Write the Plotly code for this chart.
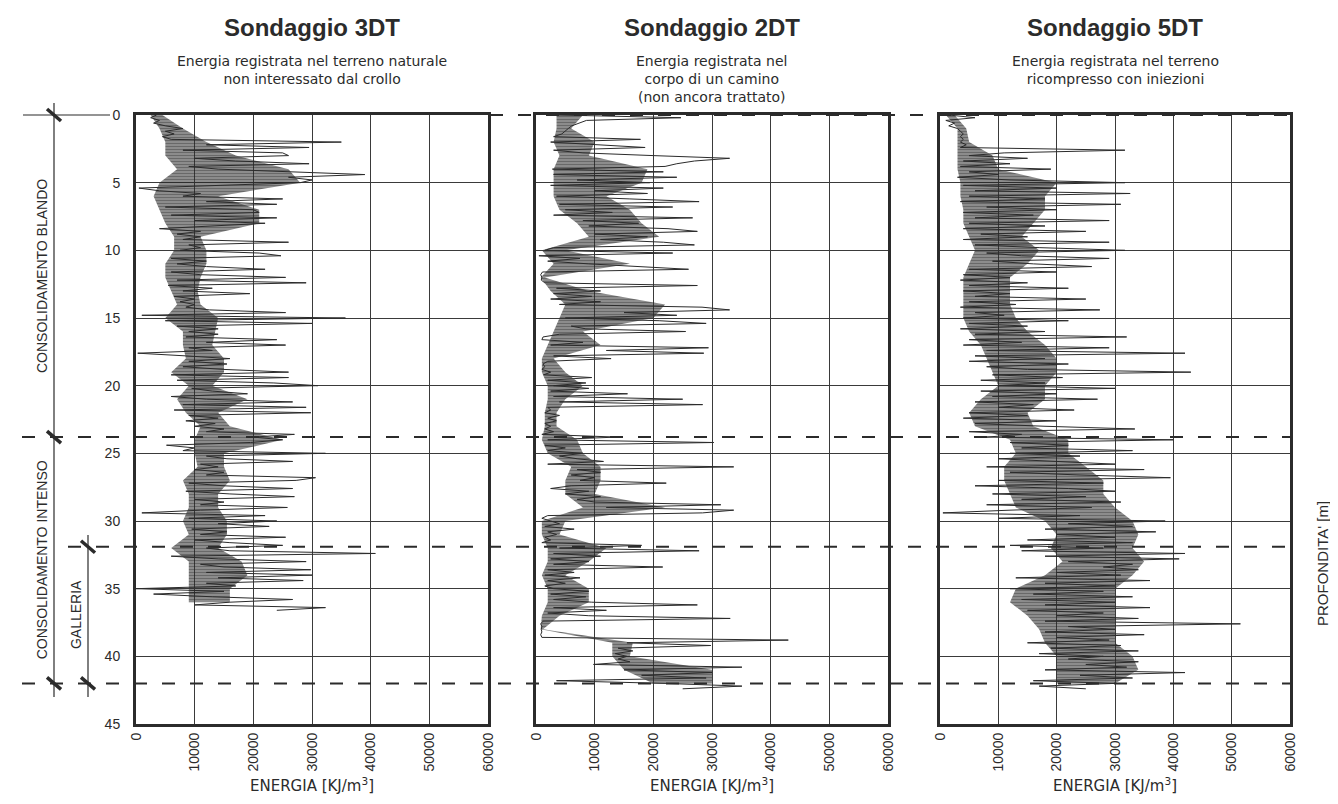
import plotly.graph_objects as go

# ---------------- data (energy in kJ/m3) ----------------
# spike trace, sampled every 0.2 m of depth
DEPTH_STEP = 0.2
# dense core of the trace, read every 1 m of depth
BAND_STEP = 1.0

E_3DT = [
    3500, 2500, 4000, 3000, 5000,
    8000, 5000, 6500, 4500, 6000,
    35000, 12000, 29500, 8000, 25000,
    26000, 10000, 17000, 29500, 9000,
    14000, 27500, 39000, 26000, 30000,
    28000, 15000, 500, 4000, 11000,
    8000, 25000, 12000, 24000, 5000,
    20000, 21000, 6000, 24000, 10000,
    22000, 13000, 4000, 11000, 7000,
    11000, 8000, 26000, 9000, 11000,
    7500, 21000, 24700, 6000, 12000,
    7000, 12000, 22000, 6000, 11000,
    25500, 7000, 29000, 5500, 13000,
    8000, 19400, 6500, 10000, 7500,
    10000, 8500, 12500, 25500, 1000,
    35700, 5000, 30000, 7000, 14000,
    9000, 14000, 8500, 24000, 12000,
    25500, 9000, 13000, 300, 8500,
    16000, 9000, 15500, 8000, 15000,
    26000, 6000, 26000, 7000, 23500,
    31000, 9500, 13000, 19000, 6000,
    12000, 26700, 8000, 29000, 6500,
    29800, 9000, 14000, 8500, 13500,
    10000, 15000, 12000, 27000, 20000,
    25000, 19500, 5200, 10000, 8000,
    32300, 12000, 15500, 26700, 11000,
    14000, 10000, 15000, 12000, 30600,
    27300, 9000, 15000, 26700, 8500,
    16000, 27000, 10000, 15000, 11000,
    25800, 11000, 1000, 22000, 9000,
    24000, 14000, 22700, 9500, 15500,
    11000, 25500, 10000, 16000, 25000,
    12000, 16000, 40800, 6000, 14000,
    29000, 11000, 15000, 29800, 12000,
    30000, 14000, 28500, 12000, 17000,
    0, 15000, 3000, 13000, 26700,
    16000, 10000, 32300, 24000,
]
LO_3DT = [2500, 4000, 5000, 5000, 7000, 4000, 3000, 4000, 5000, 6500,
          6500, 5000, 5000, 6000, 7000, 5000, 8000, 8000, 8500, 6000,
          9000, 7000, 8500, 11000, 10000, 10000, 10500, 8000, 9000, 9000,
          8000, 9000, 6000, 9000, 9000, 9000, 9000]
HI_3DT = [4500, 8000, 12000, 17000, 26000, 28000, 14000, 21000, 21000, 11000,
          12000, 12000, 11000, 10500, 11000, 14000, 13500, 13000, 15000, 15000,
          13000, 19000, 14000, 16000, 25000, 15000, 15000, 16000, 14000, 14000,
          15500, 15500, 14000, 18000, 19000, 16000, 16000]

E_2DT = [
    3900, 24700, 8600, 7500, 6100,
    5500, 5000, 4400, 3000, 17800,
    2500, 10800, 18600, 3000, 8000,
    20000, 33000, 27000, 24000, 22000,
    2800, 21700, 3000, 24000, 7000,
    19400, 2500, 21700, 10000, 19000,
    3500, 16000, 27800, 4000, 23300,
    5000, 13000, 3000, 26700, 8000,
    17500, 9000, 22500, 27500, 10000,
    19000, 11000, 21700, 27000, 3000,
    1500, 23300, 500, 7500, 2000,
    9000, 18000, 26000, 1100, 800,
    1000, 900, 1500, 27500, 3500,
    11000, 3000, 9500, 2500, 11000,
    4000, 28300, 33000, 15000, 24000,
    5000, 21000, 29000, 6000, 8500,
    25500, 4000, 1200, 1000, 8000,
    2500, 29400, 12000, 28600, 3000,
    12800, 2000, 1200, 1500, 1000,
    2500, 1300, 9500, 2000, 8500,
    3000, 9000, 2500, 15600, 3000,
    25000, 4000, 28400, 2000, 2500,
    1500, 4000, 2000, 3500, 1500,
    2500, 1500, 3000, 1000, 13800,
    2000, 30300, 1500, 5000, 2000,
    8000, 4000, 7000, 11500, 2000,
    33700, 7000, 11000, 6000, 10000,
    7500, 22200, 6000, 2500, 9000,
    5000, 11000, 7000, 10000, 31500,
    12000, 33700, 28400, 2000, 1000,
    2500, 4000, 1500, 6500, 2000,
    3500, 1500, 2500, 1000, 18000,
    4000, 27800, 3000, 11000, 2500,
    9000, 3000, 21600, 2000, 6500,
    1500, 7500, 2000, 5000, 1500,
    3000, 9000, 2500, 8500, 3000,
    9500, 27500, 3000, 12000, 2000,
    9000, 33100, 1200, 800, 1000,
    900, 1000, 800, 1000, 43000,
    15500, 29800, 14000, 16500, 13500,
    15500, 14000, 16000, 9800, 35100,
    15000, 30000, 18000, 29000, 3500,
    22000, 35100, 25000,
]
LO_2DT = [3500, 3500, 3000, 4000, 3000, 3000, 3000, 4000, 7000, 9000,
          1000, 3000, 800, 2500, 5000, 4000, 3000, 2000, 1000, 1000,
          2000, 2000, 1500, 1500, 1000, 2000, 6000, 5000, 5000, 8000,
          1000, 1000, 2000, 2000, 1000, 2000, 2000, 1000, 800, 13000,
          13000, 15000, 20000]
HI_2DT = [8000, 6000, 10000, 9000, 19000, 18000, 12000, 16000, 18000, 21000,
          5000, 16000, 1500, 9000, 22000, 20000, 8000, 11000, 3000, 5000,
          8000, 5000, 3500, 3500, 7000, 8000, 11000, 11000, 10000, 22000,
          5000, 4000, 12000, 9000, 5000, 9000, 9000, 4000, 1200, 16500,
          16000, 30000, 30000]

E_5DT = [
    1500, 6000, 1000, 2500, 1500,
    3000, 3500, 4000, 3500, 4000,
    3500, 4500, 3500, 31700, 11000,
    5000, 15000, 4000, 12000, 3500,
    19000, 5000, 10000, 3000, 12000,
    31700, 4000, 20000, 6000, 32600,
    5000, 18000, 3500, 31000, 8000,
    20000, 4000, 16000, 6000, 29000,
    5000, 18000, 4000, 25000, 7000,
    15000, 4000, 29000, 6000, 17000,
    31700, 8000, 14000, 29000, 9000,
    16000, 26000, 5000, 20000, 4000,
    12000, 3500, 15000, 5000, 22000,
    4000, 12000, 6000, 25000, 5000,
    13000, 3500, 27400, 6000, 11000,
    4000, 22000, 5000, 15000, 3500,
    18000, 6000, 32000, 5000, 14000,
    4000, 29000, 8000, 42000, 6000,
    18000, 5000, 22000, 8000, 15000,
    43000, 9000, 21000, 7000, 18000,
    10000, 30000, 7000, 20000, 9000,
    27000, 6000, 16000, 10000, 23000,
    5000, 15000, 4000, 20000, 6000,
    18000, 33400, 5000, 14000, 8000,
    40000, 12000, 22000, 14000, 33000,
    12000, 24000, 10000, 20000, 30000,
    8000, 35000, 12000, 24000, 39500,
    10000, 28000, 6000, 22000, 30000,
    9000, 25000, 14000, 31000, 8000,
    26000, 12000, 500, 24000, 10000,
    38600, 22000, 33000, 18000, 37000,
    20000, 30000, 15000, 33000, 12000,
    28000, 14000, 42000, 18000, 41000,
    22000, 33000, 28000, 34000, 20000,
    31000, 13000, 36000, 18000, 30000,
    12000, 28000, 16000, 33000, 14000,
    30000, 18000, 36000, 15000, 28000,
    20000, 34000, 18000, 51500, 22000,
    30000, 18000, 35000, 20000, 29000,
    15000, 31000, 19000, 34000, 17000,
    28000, 22000, 34000, 25000, 32000,
    18000, 42000, 24000, 33000, 16000,
    30000, 17000, 25000,
]
LO_5DT = [1000, 3000, 3000, 3000, 3000, 3500, 3500, 4000, 4000, 5000,
          6000, 5000, 4000, 4000, 4000, 4000, 5000, 7000, 8000, 9000,
          10000, 7000, 5000, 6000, 12000, 13000, 11000, 11000, 12000, 13000,
          18000, 20000, 19000, 21000, 18000, 13000, 12000, 15000, 17000, 18000,
          20000, 20000, 20000]
HI_5DT = [2500, 4500, 5000, 9000, 10000, 20000, 18000, 18000, 16000, 14000,
          17000, 15000, 12000, 12000, 12000, 13000, 15000, 18000, 20000, 20000,
          18000, 18000, 15000, 16000, 22000, 22000, 25000, 28000, 28000, 30000,
          33000, 34000, 33000, 35000, 33000, 30000, 30000, 30000, 30000, 30000,
          33000, 34000, 30000]

TITLES = ["Sondaggio 3DT", "Sondaggio 2DT", "Sondaggio 5DT"]
SUBTITLES = [
    "Energia registrata nel terreno naturale<br>non interessato dal crollo",
    "Energia registrata nel<br>corpo di un camino<br>(non ancora trattato)",
    "Energia registrata nel terreno<br>ricompresso con iniezioni",
]
X_TICKS = [0, 10000, 20000, 30000, 40000, 50000, 60000]
Y_TICKS = [0, 5, 10, 15, 20, 25, 30, 35, 40, 45]
ZONE_DEPTHS = [0, 23.8, 31.9, 42.0]   # top, blando/intenso, galleria, bottom
X_TITLE = "ENERGIA [KJ/m<sup>3</sup>]"
Y_TITLE = "PROFONDITA' [m]"

# ---------------- layout geometry ----------------
# the page body keeps an 8 px margin, so the figure is made 16 px smaller
PAGE_OFF = 8
W, H = 1338 - 2 * PAGE_OFF, 804 - 2 * PAGE_OFF
PLOT_TOP, PLOT_BOT = 115, 724          # wanted on-screen pixels
PANELS_X = [(136, 488), (536, 888), (940, 1290)]
INK = "#2b2b2b"


def fx(p):
    return (p - PAGE_OFF) / W


def fy(p):
    return 1 - (p - PAGE_OFF) / H


def depth_px(d):
    return PLOT_TOP + d / 45.0 * (PLOT_BOT - PLOT_TOP)


fig = go.Figure()
series = [(E_3DT, LO_3DT, HI_3DT), (E_2DT, LO_2DT, HI_2DT), (E_5DT, LO_5DT, HI_5DT)]
for i, (vals, lo, hi) in enumerate(series):
    sfx = "" if i == 0 else str(i + 1)
    bd = [round(k * BAND_STEP, 2) for k in range(len(lo))]
    fig.add_trace(go.Scatter(
        x=list(lo) + list(hi)[::-1], y=bd + bd[::-1], mode="lines",
        fill="toself", fillcolor="rgba(60,60,60,0.4)",
        fillpattern=dict(shape="-", fgcolor="#1e1e1e", bgcolor="rgba(70,70,70,0.4)",
                         size=3, solidity=0.7),
        line=dict(width=0),
        xaxis="x" + sfx, yaxis="y" + sfx, showlegend=False, hoverinfo="skip",
    ))
    depths = [round(k * DEPTH_STEP, 2) for k in range(len(vals))]
    fig.add_trace(go.Scatter(
        x=vals, y=depths, mode="lines",
        line=dict(color=INK, width=1.0),
        xaxis="x" + sfx, yaxis="y" + sfx, showlegend=False, hoverinfo="skip",
    ))

layout = dict(
    width=W, height=H,
    margin=dict(l=0, r=0, t=0, b=0, autoexpand=False),
    paper_bgcolor="white", plot_bgcolor="white",
    font=dict(family="Liberation Sans, Arial, sans-serif", color=INK),
    showlegend=False,
)
for i, (x0, x1) in enumerate(PANELS_X):
    sfx = "" if i == 0 else str(i + 1)
    layout["xaxis" + sfx] = dict(
        domain=[fx(x0), fx(x1)], range=[0, 60000], anchor="y" + sfx,
        tickvals=X_TICKS, ticktext=[str(v) for v in X_TICKS],
        tickangle=-90, tickfont=dict(size=14, color=INK),
        showgrid=True, gridcolor="#3a3a3a", gridwidth=1,
        showline=True, mirror=True, linecolor=INK, linewidth=3,
        ticks="", zeroline=False, fixedrange=True, automargin=False,
    )
    layout["yaxis" + sfx] = dict(
        domain=[fy(PLOT_BOT), fy(PLOT_TOP)], range=[45, 0], anchor="x" + sfx,
        tickvals=Y_TICKS, showticklabels=(i == 0),
        tickfont=dict(size=14, color=INK), ticklabelstandoff=10,
        showgrid=True, gridcolor="#3a3a3a", gridwidth=1,
        showline=True, mirror=True, linecolor=INK, linewidth=3,
        ticks="", zeroline=False, fixedrange=True, automargin=False,
    )
fig.update_layout(**layout)

annotations = []
for i, (x0, x1) in enumerate(PANELS_X):
    cx = fx((x0 + x1) / 2)
    annotations.append(dict(
        x=cx, y=fy(27), xref="paper", yref="paper", text="<b>%s</b>" % TITLES[i],
        showarrow=False, xanchor="center", yanchor="middle",
        font=dict(size=24, family="Liberation Sans, Arial", color=INK),
    ))
    annotations.append(dict(
        x=cx, y=fy(51), xref="paper", yref="paper", text=SUBTITLES[i],
        showarrow=False, xanchor="center", yanchor="top", align="center",
        font=dict(size=14, family="DejaVu Sans, Arial", color=INK),
    ))
    annotations.append(dict(
        x=cx, y=fy(785), xref="paper", yref="paper", text=X_TITLE,
        showarrow=False, xanchor="center", yanchor="middle",
        font=dict(size=15, family="DejaVu Sans, Arial", color=INK),
    ))

annotations.append(dict(
    x=fx(1322), y=fy(564), xref="paper", yref="paper", text=Y_TITLE,
    showarrow=False, textangle=-90, xanchor="center", yanchor="middle",
    font=dict(size=15, family="Liberation Sans, Arial", color=INK),
))
annotations.append(dict(
    x=fx(42), y=fy((depth_px(ZONE_DEPTHS[0]) + depth_px(ZONE_DEPTHS[1])) / 2),
    xref="paper", yref="paper", text="CONSOLIDAMENTO BLANDO",
    showarrow=False, textangle=-90, xanchor="center", yanchor="middle",
    font=dict(size=14, family="Liberation Sans, Arial", color=INK),
))
annotations.append(dict(
    x=fx(42), y=fy((depth_px(ZONE_DEPTHS[1]) + depth_px(ZONE_DEPTHS[3])) / 2),
    xref="paper", yref="paper", text="CONSOLIDAMENTO INTENSO",
    showarrow=False, textangle=-90, xanchor="center", yanchor="middle",
    font=dict(size=14, family="Liberation Sans, Arial", color=INK),
))
annotations.append(dict(
    x=fx(76), y=fy((depth_px(ZONE_DEPTHS[2]) + depth_px(ZONE_DEPTHS[3])) / 2),
    xref="paper", yref="paper", text="GALLERIA",
    showarrow=False, textangle=-90, xanchor="center", yanchor="middle",
    font=dict(size=14, family="Liberation Sans, Arial", color=INK),
))
fig.update_layout(annotations=annotations)

shapes = []
DASH = "13px,15px"
y0 = fy(depth_px(ZONE_DEPTHS[0]))
shapes.append(dict(type="line", xref="paper", yref="paper", x0=fx(23), x1=fx(110),
                   y0=y0, y1=y0, line=dict(color=INK, width=1.2), layer="above"))
shapes.append(dict(type="line", xref="paper", yref="paper", x0=fx(490), x1=fx(1290),
                   y0=y0, y1=y0, line=dict(color=INK, width=2, dash=DASH), layer="above"))
for d, xs in [(ZONE_DEPTHS[1], 22), (ZONE_DEPTHS[2], 68), (ZONE_DEPTHS[3], 22)]:
    yy = fy(depth_px(d))
    shapes.append(dict(type="line", xref="paper", yref="paper", x0=fx(xs), x1=fx(1290),
                       y0=yy, y1=yy, line=dict(color=INK, width=2, dash=DASH), layer="above"))
shapes.append(dict(type="line", xref="paper", yref="paper", x0=fx(54), x1=fx(54),
                   y0=fy(103), y1=fy(697), line=dict(color=INK, width=1.2)))
shapes.append(dict(type="line", xref="paper", yref="paper", x0=fx(88), x1=fx(88),
                   y0=fy(535), y1=fy(697), line=dict(color=INK, width=1.2)))
for xc, d in [(54, ZONE_DEPTHS[0]), (54, ZONE_DEPTHS[1]), (54, ZONE_DEPTHS[3]),
              (88, ZONE_DEPTHS[2]), (88, ZONE_DEPTHS[3])]:
    yc = depth_px(d)
    shapes.append(dict(type="line", xref="paper", yref="paper",
                       x0=fx(xc - 7), x1=fx(xc + 7), y0=fy(yc - 6), y1=fy(yc + 6),
                       line=dict(color=INK, width=3.5)))
fig.update_layout(shapes=shapes)

fig.write_html("out.html")
